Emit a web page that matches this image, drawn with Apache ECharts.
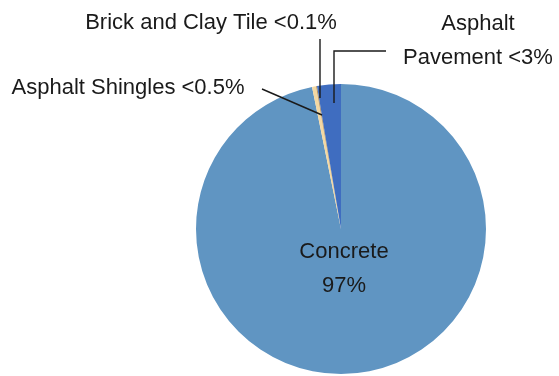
<!DOCTYPE html>
<html>
<head>
<meta charset="utf-8">
<script src="https://cdn.jsdelivr.net/npm/echarts@6/dist/echarts.min.js"></script>
<style>
  html, body { margin: 0; padding: 0; background: #fff; }
  #main { width: 559px; height: 376px; }
</style>
</head>
<body>
<div id="main"></div>
<script>
// materials, clockwise from 12 o'clock
const categories = ['Concrete', 'Asphalt Shingles', 'Brick and Clay Tile', 'Asphalt Pavement'];
const shares = [96.8, 0.45, 0.1, 2.65];
const labelTexts = ['Concrete\n97%', 'Asphalt Shingles <0.5%', 'Brick and Clay Tile <0.1%', 'Asphalt\nPavement <3%'];

const colors = ['#6095c2', '#f4d8a2', '#b08d57', '#3f6dc0'];

// where each label sits, and its leader line
const labelSpots = [
    { x: 344, y: 269, align: 'center', line: null },
    { x: 128, y: 88, align: 'center', line: [[262, 89], [262, 89], [322, 115]] },
    { x: 211, y: 23, align: 'center', line: [[320, 39], [320, 39], [320, 98]] },
    { x: 478, y: 41, align: 'center', line: [[386, 51], [334, 51], [334, 103]] }
];

const myChart = echarts.init(document.getElementById('main'));

const pieBase = {
    type: 'pie',
    center: [341, 229],
    radius: 145,
    startAngle: 90,
    clockwise: true,
    avoidLabelOverlap: false
};

const option = {
    animation: false,
    series: [
        // the slices
        Object.assign({}, pieBase, {
            z: 1,
            label: { show: false },
            labelLine: { show: false },
            data: categories.map((name, i) => ({
                name: name,
                value: shares[i],
                itemStyle: { color: colors[i] }
            }))
        }),
        // same pie again, transparent, so labels and leaders sit on top
        Object.assign({}, pieBase, {
            z: 5,
            silent: true,
            label: {
                show: true,
                position: 'outside',
                fontFamily: 'Liberation Sans, Arial, sans-serif',
                fontSize: 22,
                lineHeight: 34,
                color: '#1a1a1a',
                formatter: p => labelTexts[p.dataIndex]
            },
            labelLine: {
                show: true,
                lineStyle: { color: '#1a1a1a', width: 1.4 }
            },
            labelLayout: function (params) {
                const s = labelSpots[params.dataIndex];
                const out = { x: s.x, y: s.y, align: s.align, verticalAlign: 'middle' };
                if (s.line) out.labelLinePoints = s.line;
                return out;
            },
            data: categories.map((name, i) => ({
                name: name,
                value: shares[i],
                itemStyle: { color: 'rgba(0,0,0,0)' },
                labelLine: { show: i !== 0 }
            }))
        })
    ]
};

myChart.setOption(option);
</script>
</body>
</html>
